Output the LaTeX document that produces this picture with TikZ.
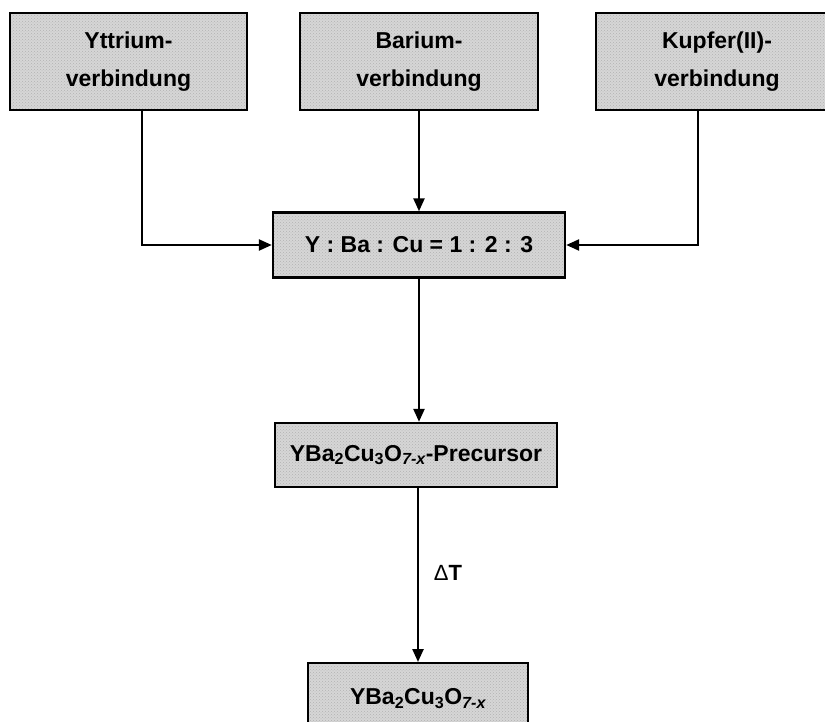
\documentclass[tikz,border=0pt]{standalone}
\usepackage{fontspec}
\setmainfont{Liberation Sans}
\usetikzlibrary{arrows.meta,patterns}
\begin{document}
\begin{tikzpicture}[x=1pt,y=-1pt,
  box/.style={draw=black,line width=2.4pt,inner sep=0pt,align=center,
    font=\fontsize{23}{38}\selectfont\bfseries,
    preaction={fill=black!16},
    pattern=crosshatch dots,pattern color=black!30},
  conn/.style={line width=2.4pt,-{Triangle[length=13pt,width=11pt]}}]
\useasboundingbox (0,0) rectangle (825,722);
\begin{scope}
\clip (0,0) rectangle (825,722);
\node[box,minimum width=237pt,minimum height=97pt] (yt) at (128.5,61.5) {Yttrium-\\verbindung};
\node[box,minimum width=238pt,minimum height=97pt] (ba) at (419,61.5) {Barium-\\verbindung};
\node[box,minimum width=242pt,minimum height=97pt] (cu) at (717,61.5) {Kupfer(II)-\\verbindung};
\node[box,minimum width=292pt,minimum height=65pt] (mix) at (419,245) {Y : Ba : Cu = 1 : 2 : 3};
\node[box,minimum width=282pt,minimum height=64pt] (pre) at (416,455)
  {YBa\textsubscript{2}Cu\textsubscript{3}O\textsubscript{\itshape 7-x}-Precursor};
\node[box,minimum width=220pt,minimum height=70pt,anchor=north] (fin) at (418,662)
  {YBa\textsubscript{2}Cu\textsubscript{3}O\textsubscript{\itshape 7-x}};
\end{scope}
\coordinate (ytc) at (142,245);
\coordinate (cuc) at (698,245);
\draw[conn] (yt.south -| ytc) -- (ytc) -- (mix.west);
\draw[conn] (cu.south -| cuc) -- (cuc) -- (mix.east);
\draw[conn] (ba.south) -- (mix.north);
\draw[conn] (mix.south) -- (pre.north -| mix.south);
\draw[conn] (pre.south -| fin.north) -- (fin.north);
\node[font=\fontsize{22}{24}\selectfont] (dt) at (448,573) {Δ\textbf{T}};
\end{tikzpicture}
\end{document}
